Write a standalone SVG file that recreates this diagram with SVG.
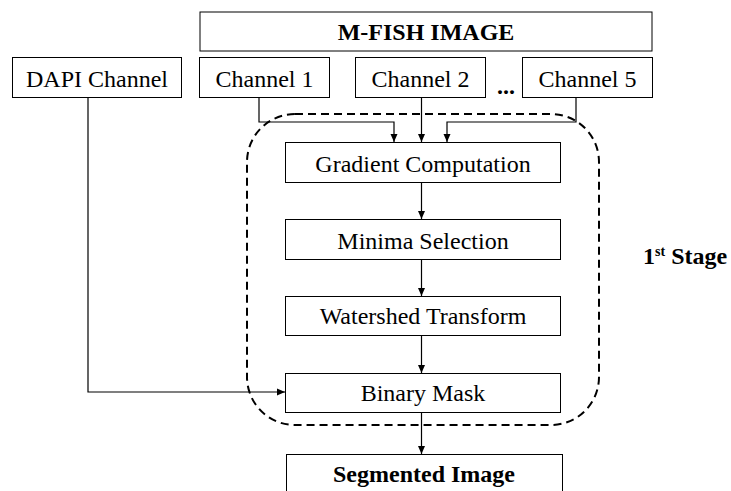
<svg xmlns="http://www.w3.org/2000/svg" width="731" height="491" viewBox="0 0 731 491">
<defs>
<marker id="arr" markerWidth="8" markerHeight="8" refX="8" refY="4" orient="auto" markerUnits="userSpaceOnUse">
<path d="M0,0.5 L8,4 L0,7.5 Z" fill="#000"/>
</marker>
<style>
.box{fill:#fff;stroke:#000;stroke-width:1}
.t{font-family:"Liberation Serif","Times New Roman",serif;font-size:24px;fill:#000;text-anchor:middle}
.b{font-weight:bold}
.c{fill:none;stroke:#000;stroke-width:1.2}
.dash{fill:none;stroke:#000;stroke-width:2;stroke-dasharray:8 5}
</style>
</defs>
<rect width="731" height="491" fill="#fff"/>
<g id="stage">
<rect class="dash" x="247" y="114" width="352" height="311" rx="48" ry="48"/>
<text class="t b" x="643" y="264" text-anchor="start" style="text-anchor:start">1<tspan font-size="14" dy="-8">st</tspan><tspan dy="8"> Stage</tspan></text>
</g>
<g id="connectors">
<path class="c" d="M259,97 V122 H394 V142" marker-end="url(#arr)"/>
<path class="c" d="M421.5,97 V142" marker-end="url(#arr)"/>
<path class="c" d="M576,97 V122 H447 V142" marker-end="url(#arr)"/>
<path class="c" d="M421.5,182 V219" marker-end="url(#arr)"/>
<path class="c" d="M421.5,259 V296" marker-end="url(#arr)"/>
<path class="c" d="M421.5,335 V373" marker-end="url(#arr)"/>
<path class="c" d="M88,97 V392 H285" marker-end="url(#arr)"/>
<path class="c" d="M421.5,412 V454" marker-end="url(#arr)"/>
</g>
<g id="mfish">
<rect class="box" x="200" y="12" width="452" height="39"/>
<text class="t b" x="426" y="40">M-FISH IMAGE</text>
</g>
<g id="dapi">
<rect class="box" x="12.5" y="57.5" width="169" height="40"/>
<text class="t" x="97" y="87">DAPI Channel</text>
</g>
<g id="ch1">
<rect class="box" x="199.5" y="57.5" width="130" height="40"/>
<text class="t" x="264.5" y="87">Channel 1</text>
</g>
<g id="ch2">
<rect class="box" x="355.5" y="57.5" width="130" height="40"/>
<text class="t" x="420.5" y="87">Channel 2</text>
</g>
<text class="t b" x="506" y="94">...</text>
<g id="ch5">
<rect class="box" x="522.5" y="57.5" width="130" height="40"/>
<text class="t" x="587.5" y="87">Channel 5</text>
</g>
<g id="gradient">
<rect class="box" x="285.5" y="142.5" width="275" height="40"/>
<text class="t" x="423" y="172">Gradient Computation</text>
</g>
<g id="minima">
<rect class="box" x="285.5" y="219.5" width="275" height="40"/>
<text class="t" x="423" y="249">Minima Selection</text>
</g>
<g id="watershed">
<rect class="box" x="285.5" y="296.5" width="275" height="39"/>
<text class="t" x="423" y="324">Watershed Transform</text>
</g>
<g id="mask">
<rect class="box" x="285.5" y="373.5" width="275" height="39"/>
<text class="t" x="423" y="401">Binary Mask</text>
</g>
<g id="segmented">
<rect class="box" x="286.5" y="454.5" width="276" height="40"/>
<text class="t b" x="424" y="482">Segmented Image</text>
</g>
</svg>
